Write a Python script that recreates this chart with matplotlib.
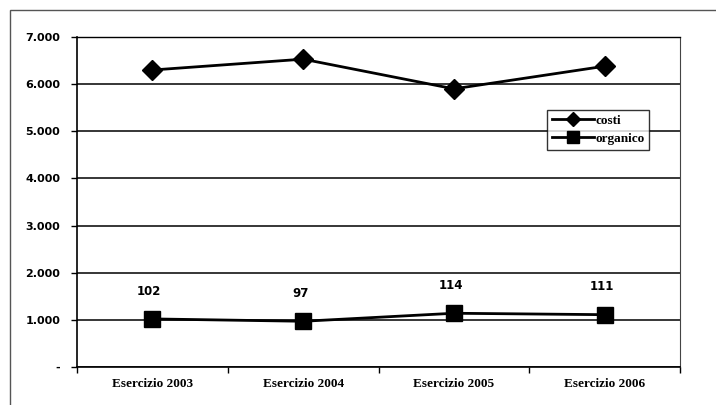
import matplotlib
matplotlib.use("Agg")
import matplotlib.pyplot as plt
from matplotlib.patches import Rectangle
from matplotlib.ticker import FixedLocator

categories = ["Esercizio 2003", "Esercizio 2004", "Esercizio 2005", "Esercizio 2006"]
costi = [6300, 6530, 5900, 6380]
organico = [102, 97, 114, 111]
organico_plot = [v * 10 for v in organico]
yticks = [0, 1000, 2000, 3000, 4000, 5000, 6000, 7000]
ytick_labels = ["-", "1.000", "2.000", "3.000", "4.000", "5.000", "6.000", "7.000"]

fig = plt.figure(figsize=(7.16, 4.05), dpi=100)
W, H = 716, 405
ax = fig.add_axes([77 / W, 1 - 367 / H, (680 - 77) / W, (367 - 37) / H])

# outer frame of the scanned chart
fig.patches.append(Rectangle((10 / W, -0.1), 1.2, 1 - 10 / H + 0.1, transform=fig.transFigure,
                             fill=False, edgecolor="#555555", lw=1.0))

x = list(range(len(categories)))
ax.plot(x, costi, color="black", lw=2, marker="D", markersize=10, label="costi")
ax.plot(x, organico_plot, color="black", lw=2, marker="s", markersize=11, label="organico")

for xi, v, lab in zip(x, organico_plot, organico):
    ax.text(xi - 0.02, v + 590, str(lab), ha="center", va="center",
            fontsize=8.5, fontweight="bold", family="DejaVu Sans")

ax.set_xlim(-0.5, 3.5)
ax.set_ylim(0, 7000)
ax.set_yticks(yticks)
ax.set_yticklabels(ytick_labels, fontsize=8, fontweight="bold", family="DejaVu Sans")
ax.yaxis.grid(True, color="black", lw=1.1)
ax.set_axisbelow(True)

ax.set_xticks(x)
ax.set_xticklabels(categories, fontsize=9.5, fontweight="bold", family="Liberation Serif")
ax.tick_params(axis="x", length=0, pad=8)
ax.xaxis.set_minor_locator(FixedLocator([-0.5, 0.5, 1.5, 2.5, 3.5]))
ax.tick_params(axis="x", which="minor", length=4, width=1, direction="out")
ax.tick_params(axis="y", length=4, width=1, direction="out", pad=8)

for s in ["left", "bottom"]:
    ax.spines[s].set_linewidth(1.2)
ax.spines["top"].set_linewidth(1.0)
ax.spines["right"].set_linestyle((0, (2, 1)))
ax.spines["right"].set_color("#444444")

leg = ax.legend(loc="upper left", bbox_to_anchor=((547 - 77) / 603, 1 - (110 - 37) / 330),
                prop={"family": "Liberation Serif", "weight": "bold", "size": 9.5},
                frameon=True, fancybox=False, edgecolor="black", handlelength=3.2,
                borderpad=0.35, labelspacing=0.45, handletextpad=0.1, markerscale=0.75,
                borderaxespad=0)
leg.get_frame().set_linewidth(1.0)

fig.savefig("out.png", dpi=100)
